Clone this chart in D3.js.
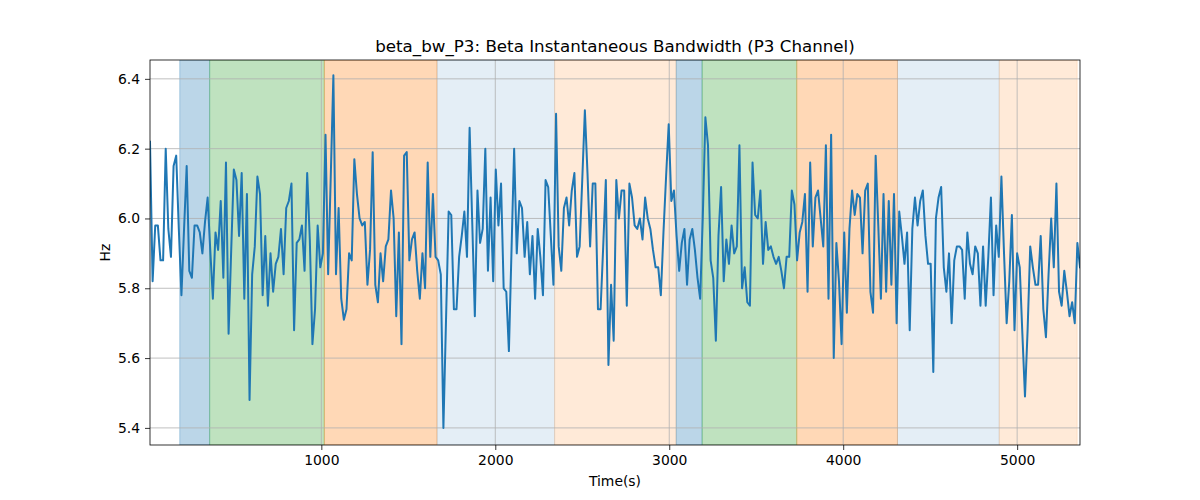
<!DOCTYPE html>
<html>
<head>
<meta charset="utf-8">
<script src="https://cdn.jsdelivr.net/npm/d3@7"></script>
<style>
  html, body { margin: 0; padding: 0; background: #fff; }
  svg { display: block; font-family: "DejaVu Sans", sans-serif; }
</style>
</head>
<body>
<svg id="chart" width="1200" height="500"></svg>
<script>
// ---- data ----
const titleText = "beta_bw_P3: Beta Instantaneous Bandwidth (P3 Channel)";
const xLabel = "Time(s)";
const yLabel = "Hz";
const startTime = 15;
const sampleStep = 15.06;
const values = [
  6.22, 5.82, 5.98, 5.98, 5.88, 5.88, 6.20, 5.97, 5.89, 6.15,
  6.18, 5.97, 5.78, 5.97, 6.15, 5.85, 5.83, 5.98, 5.98, 5.96,
  5.90, 5.99, 6.06, 5.91, 5.77, 5.96, 5.91, 6.05, 5.83, 6.16,
  5.67, 5.91, 6.14, 6.11, 5.95, 6.13, 5.77, 6.07, 5.48, 5.84,
  5.92, 6.12, 6.07, 5.78, 5.95, 5.75, 5.90, 5.79, 5.87, 5.89,
  5.97, 5.84, 6.03, 6.05, 6.10, 5.68, 5.93, 5.94, 5.98, 5.85,
  6.13, 5.94, 5.64, 5.74, 5.98, 5.86, 5.90, 6.24, 5.84, 6.12,
  6.41, 5.84, 6.03, 5.77, 5.71, 5.74, 5.90, 5.88, 6.17, 6.07,
  6.00, 5.98, 5.99, 5.81, 5.91, 6.19, 5.81, 5.76, 5.90, 5.82,
  5.92, 5.94, 6.08, 6.00, 5.72, 5.96, 5.64, 6.18, 6.19, 5.88,
  5.94, 5.96, 5.85, 5.77, 5.90, 5.80, 6.16, 5.89, 6.07, 5.89,
  5.88, 5.84, 5.40, 5.71, 6.02, 6.01, 5.74, 5.74, 5.89, 5.95,
  6.02, 5.89, 6.26, 5.99, 5.72, 6.08, 5.93, 5.97, 6.20, 5.85,
  6.06, 5.82, 6.14, 5.98, 6.10, 5.80, 5.79, 5.62, 5.91, 6.20,
  5.90, 6.05, 6.03, 5.89, 5.99, 5.84, 5.95, 5.77, 5.97, 5.89,
  5.78, 6.11, 6.09, 5.95, 5.81, 6.30, 5.92, 5.85, 6.03, 6.06,
  5.98, 6.08, 6.13, 5.89, 5.92, 6.11, 6.31, 6.13, 5.92, 6.10,
  6.10, 5.74, 5.74, 5.92, 6.11, 5.58, 5.81, 5.65, 6.11, 6.00,
  6.08, 6.08, 5.75, 6.10, 6.06, 5.98, 5.97, 6.00, 5.94, 6.06,
  6.00, 5.97, 5.91, 5.86, 5.86, 5.78, 5.96, 6.12, 6.27, 6.05,
  6.08, 5.95, 5.85, 5.93, 5.97, 5.81, 5.94, 5.97, 5.91, 5.83,
  5.77, 6.00, 6.29, 6.21, 5.88, 5.83, 5.65, 5.95, 6.09, 5.82,
  5.94, 5.87, 5.98, 5.90, 5.92, 6.21, 5.80, 5.86, 5.76, 5.75,
  6.16, 6.01, 6.00, 6.08, 5.87, 5.99, 5.91, 5.92, 5.89, 5.87,
  5.89, 5.85, 5.80, 5.89, 5.89, 6.08, 6.04, 5.88, 5.96, 5.99,
  6.07, 5.79, 6.16, 5.92, 6.06, 6.08, 6.00, 5.92, 6.21, 5.77,
  6.24, 5.60, 5.93, 5.82, 5.64, 5.96, 5.73, 5.97, 6.08, 6.01,
  6.07, 6.06, 5.90, 6.08, 6.10, 5.79, 5.73, 6.18, 5.98, 5.77,
  6.07, 5.79, 6.05, 5.81, 6.07, 5.70, 6.02, 5.95, 5.87, 5.96,
  5.68, 5.97, 6.06, 5.98, 6.05, 6.08, 5.95, 5.87, 5.87, 5.56,
  6.00, 6.06, 6.09, 5.86, 5.79, 5.90, 5.70, 5.88, 5.92, 5.92,
  5.91, 5.77, 5.96, 5.87, 5.84, 5.92, 5.90, 5.75, 5.92, 5.75,
  5.89, 6.06, 5.78, 5.98, 5.89, 6.12, 5.90, 5.70, 5.82, 6.01,
  5.68, 5.90, 5.86, 5.67, 5.49, 5.68, 5.92, 5.86, 5.81, 5.81,
  5.95, 5.74, 5.66, 5.84, 6.00, 5.86, 6.10, 5.79, 5.75, 5.85,
  5.79, 5.72, 5.76, 5.70, 5.93, 5.86
];
const bandStarts = [186, 358, 1017, 1665, 2341, 3040, 3189, 3733, 4312, 4897];
const bandEnds   = [358, 1017, 1665, 2341, 3040, 3189, 3733, 4312, 4897, 5345];
const bandKinds  = ["blue", "green", "orange", "lightblue", "lightorange", "blue", "green", "orange", "lightblue", "lightorange"];
const xTicks = [1000, 2000, 3000, 4000, 5000];
const yTicks = [5.4, 5.6, 5.8, 6.0, 6.2, 6.4];

// ---- styles ----
const bandStyle = {
  blue:        { fill: "#1f77b4", op: 0.3 },
  green:       { fill: "#2ca02c", op: 0.3 },
  orange:      { fill: "#ff7f0e", op: 0.3 },
  lightblue:   { fill: "#1f77b4", op: 0.12 },
  lightorange: { fill: "#ff7f0e", op: 0.16 }
};

const times = values.map((v, i) => startTime + i * sampleStep);
const data = values.map((v, i) => ({ t: times[i], v }));

const margin = { left: 150, right: 120, top: 60, bottom: 55 };
const W = 1200, H = 500;
const iw = W - margin.left - margin.right;
const ih = H - margin.top - margin.bottom;

const svg = d3.select("#chart");
const g = svg.append("g").attr("transform", `translate(${margin.left},${margin.top})`);

const x = d3.scaleLinear().domain([times[0], times[times.length - 1]]).range([0, iw]);
const y = d3.scaleLinear().domain([5.351, 6.454]).range([ih, 0]);

g.append("defs").append("clipPath").attr("id", "clip")
  .append("rect").attr("width", iw).attr("height", ih);

// bands
const bands = bandStarts.map((s, i) => ({ s, e: bandEnds[i], k: bandKinds[i] }));
g.append("g").attr("clip-path", "url(#clip)").selectAll("rect").data(bands).join("rect")
  .attr("x", d => x(d.s))
  .attr("width", d => x(d.e) - x(d.s))
  .attr("y", 0).attr("height", ih)
  .attr("fill", d => bandStyle[d.k].fill)
  .attr("fill-opacity", d => bandStyle[d.k].op)
  .attr("stroke", d => bandStyle[d.k].fill)
  .attr("stroke-opacity", d => bandStyle[d.k].op)
  .attr("stroke-width", 1);

// grid
const grid = g.append("g");
grid.selectAll(".gx").data(xTicks).join("line")
  .attr("x1", d => x(d)).attr("x2", d => x(d))
  .attr("y1", 0).attr("y2", ih)
  .attr("stroke", "#b0b0b0").attr("stroke-width", 0.8);
grid.selectAll(".gy").data(yTicks).join("line")
  .attr("y1", d => y(d)).attr("y2", d => y(d))
  .attr("x1", 0).attr("x2", iw)
  .attr("stroke", "#b0b0b0").attr("stroke-width", 0.8);

// line
const line = d3.line().x(d => x(d.t)).y(d => y(d.v));
g.append("path").datum(data)
  .attr("clip-path", "url(#clip)")
  .attr("fill", "none").attr("stroke", "#1f77b4")
  .attr("stroke-width", 2.0).attr("stroke-linejoin", "round").attr("stroke-linecap", "square")
  .attr("d", line);

// axes
const xAxis = d3.axisBottom(x).tickValues(xTicks).tickFormat(d3.format("d")).tickSize(5).tickPadding(5);
const yAxis = d3.axisLeft(y).tickValues(yTicks).tickFormat(d3.format(".1f")).tickSize(5).tickPadding(5);
const gx = g.append("g").attr("transform", `translate(0,${ih})`).call(xAxis);
const gy = g.append("g").call(yAxis);
[gx, gy].forEach(a => {
  a.select(".domain").remove();
  a.selectAll("line").attr("stroke", "#000").attr("stroke-width", 0.8);
  a.selectAll("text").attr("font-size", "13.9px").attr("fill", "#000").attr("font-family", "DejaVu Sans, sans-serif");
});

// frame
g.append("rect").attr("width", iw).attr("height", ih)
  .attr("fill", "none").attr("stroke", "#000").attr("stroke-width", 0.8);

// labels
svg.append("text").attr("x", margin.left + iw / 2).attr("y", 52)
  .attr("text-anchor", "middle").attr("font-size", "16.7px").attr("fill", "#000")
  .text(titleText);
svg.append("text").attr("x", margin.left + iw / 2).attr("y", 486)
  .attr("text-anchor", "middle").attr("font-size", "13.9px").attr("fill", "#000")
  .text(xLabel);
svg.append("text").attr("transform", `translate(110,${margin.top + ih / 2}) rotate(-90)`)
  .attr("text-anchor", "middle").attr("font-size", "13.9px").attr("fill", "#000")
  .text(yLabel);
</script>
</body>
</html>
